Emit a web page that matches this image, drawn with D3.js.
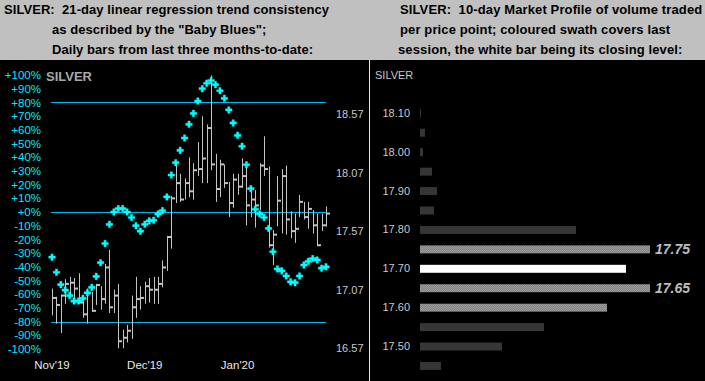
<!DOCTYPE html>
<html><head><meta charset="utf-8">
<script src="https://cdn.jsdelivr.net/npm/d3@7"></script>
<style>
body{margin:0;background:#c0c0c0;}
svg{display:block;}
text{font-family:"Liberation Sans",Arial,sans-serif;}
.hdr{font-weight:bold;font-size:13px;fill:#000;white-space:pre;}
</style>
</head><body>
<svg id="c" width="705" height="381"></svg>
<script>
// ---------- data: left panel (daily bars, last three months) ----------
const highs  = [17.08,17.01,17.03,17.16,17.18,17.17,17.21,16.97,17.08,17.05,17.12,17.10,17.29,17.41,17.07,17.12,16.73,16.77,17.02,17.18,17.10,17.14,17.17,17.18,17.18,17.32,17.53,17.87,
                18.15,18.06,18.02,18.20,18.15,18.33,18.55,18.48,18.90,18.23,18.18,18.14,17.99,18.06,18.06,18.19,18.15,17.95,17.92,18.15,18.38,18.12,17.58,
                18.04,18.10,18.13,17.74,17.72,17.88,17.82,17.82,17.75,17.72,17.72,17.78];
const lows   = [16.85,16.78,16.70,16.95,17.02,17.00,16.95,16.83,16.78,16.88,16.94,16.90,16.95,16.87,16.87,16.57,16.57,16.62,16.65,16.83,16.90,16.95,16.96,16.95,16.95,17.09,17.23,17.42,
                17.81,17.82,17.84,17.86,17.84,18.04,17.98,17.98,18.09,17.82,17.86,17.94,17.69,17.77,17.88,17.94,17.62,17.69,17.60,17.75,18.04,17.43,17.28,
                17.61,17.55,17.54,17.51,17.47,17.69,17.67,17.59,17.55,17.44,17.57,17.61];
const closes = [17.00,16.94,17.02,17.12,17.13,17.08,16.96,16.86,17.04,16.89,17.11,16.99,17.26,16.92,17.02,16.63,16.66,16.72,16.92,16.99,17.00,17.10,17.07,17.07,17.12,17.26,17.52,17.85,
                17.98,17.84,17.98,17.91,18.09,18.10,18.19,18.45,18.14,17.93,18.14,17.98,17.81,18.01,17.95,18.04,17.79,17.84,17.79,18.13,18.10,17.45,17.54,
                17.83,18.04,17.67,17.57,17.59,17.82,17.69,17.76,17.62,17.45,17.62,17.72];
// 21-day linear regression trend consistency ("Baby Blues"), percent
const trend  = [-33,-44,-53,-57,-61,-65,-65,-63,-59,-55,-47,-37,-23,-9,0,2.5,2.5,0,-4,-10,-14,-9,-6.5,-6,-1.5,1,11,27,
                36,45,54,64,72,81,90,94,96,93,88.5,83,74.5,65,56,48,34.5,17,2,-1.5,-4,-12,-29,
                -41.6,-43,-46.7,-51,-51.6,-46.7,-38.7,-36,-34,-35,-41,-40];
const monthLabels = ["Nov'19","Dec'19","Jan'20"];
const monthIndex  = [0,21,42];
const pctTicks    = d3.range(-100,101,10);
const priceTicks  = [16.57,17.07,17.57,18.07,18.57];
const trendLevels = [80,0,-80];

// ---------- data: right panel (10-day market profile) ----------
const profilePrices = ["18.10","18.05","18.00","17.95","17.90","17.85","17.80","17.75","17.70","17.65","17.60","17.55","17.50","17.45"];
const profileVolume = [1,5,3,12,17,14,156,230,206,230,187,124,82,21];
const profileKind   = ["base","base","base","base","base","base","base","swath","close","swath","swath","base","base","base"];
const swathLabels   = ["17.75","17.65"];

const svg = d3.select("#c");
const defs = svg.append("defs");
const pat = defs.append("pattern").attr("id","dither").attr("width",2).attr("height",2).attr("patternUnits","userSpaceOnUse");
pat.append("rect").attr("width",2).attr("height",2).attr("fill","#828282");
pat.append("rect").attr("width",1).attr("height",1).attr("fill","#9c9c9c");
pat.append("rect").attr("x",1).attr("y",1).attr("width",1).attr("height",1).attr("fill","#9c9c9c");

// backgrounds
svg.append("rect").attr("x",0).attr("y",0).attr("width",705).attr("height",60).attr("fill","#c0c0c0");
svg.append("rect").attr("x",0).attr("y",60).attr("width",705).attr("height",321).attr("fill","#000");
svg.append("line").attr("x1",369.5).attr("x2",369.5).attr("y1",60).attr("y2",381).attr("stroke","#e8e8e8").attr("stroke-width",1);

// headers
const hdrL = ["SILVER:  21-day linear regression trend consistency","as described by the \"Baby Blues\";","Daily bars from last three months-to-date:"];
const hdrLx = [4,52,52];
const hdrR = ["SILVER:  10-day Market Profile of volume traded","per price point; coloured swath covers last","session, the white bar being its closing level:"];
const hdrRx = [400,400,398];
const hdrY = [14,34,53.5];
svg.selectAll("text.hl").data(hdrL).join("text").attr("class","hdr hl")
  .attr("x",(d,i)=>hdrLx[i]).attr("y",(d,i)=>hdrY[i]).attr("letter-spacing","0.06px").text(d=>d);
svg.selectAll("text.hr").data(hdrR).join("text").attr("class","hdr hr")
  .attr("x",(d,i)=>hdrRx[i]).attr("y",(d,i)=>hdrY[i]).attr("letter-spacing","0.12px").text(d=>d);

// ---------- left panel ----------
const x = d3.scalePoint().domain(d3.range(closes.length)).range([52,326]);
const yPct = d3.scaleLinear().domain([-100,100]).range([349,75]);
const yPrice = d3.scaleLinear().domain([16.57,18.57]).range([348.3,114]);

const pctAxis = d3.axisLeft(yPct).tickValues(pctTicks).tickSize(0).tickPadding(0)
  .tickFormat(d => (d>=0?"+":"") + d + "%");
const gP = svg.append("g").attr("transform","translate(41,0)").call(pctAxis);
gP.select(".domain").remove();
gP.selectAll("text").attr("fill","#00e8ff").attr("font-size","11.5px").attr("font-family","Liberation Sans, Arial, sans-serif");

svg.append("text").attr("x",46).attr("y",80.5).attr("fill","#a8a8a8")
  .attr("font-weight","bold").attr("font-size","13px").text("SILVER");

const priceAxis = d3.axisRight(yPrice).tickValues(priceTicks).tickSize(0).tickPadding(0).tickFormat(d3.format(".2f"));
const gR = svg.append("g").attr("transform","translate(336,0)").call(priceAxis);
gR.select(".domain").remove();
gR.selectAll("text").attr("fill","#c8c8c8").attr("font-size","11px").attr("font-family","Liberation Sans, Arial, sans-serif");

svg.selectAll("line.lvl").data(trendLevels).join("line").attr("class","lvl")
  .attr("x1",51).attr("x2",326).attr("y1",d=>Math.round(yPct(d))+0.5).attr("y2",d=>Math.round(yPct(d))+0.5)
  .attr("stroke","#00b8f0").attr("stroke-width",1);

const bars = svg.append("g");
const idx = d3.range(closes.length);
bars.selectAll("line.hl").data(idx).join("line").attr("class","hl")
  .attr("x1",i=>Math.round(x(i))+0.5).attr("x2",i=>Math.round(x(i))+0.5)
  .attr("y1",i=>yPrice(highs[i])).attr("y2",i=>yPrice(lows[i]))
  .attr("stroke","#c4c4c4").attr("stroke-width",1);
bars.selectAll("line.cl").data(idx).join("line").attr("class","cl")
  .attr("x1",i=>Math.round(x(i))+1).attr("x2",i=>Math.round(x(i))+4)
  .attr("y1",i=>yPrice(closes[i])).attr("y2",i=>yPrice(closes[i]))
  .attr("stroke","#c4c4c4").attr("stroke-width",2);

svg.append("g").selectAll("path").data(idx).join("path")
  .attr("d",d3.symbol(d3.symbolCross,24))
  .attr("transform",i=>`translate(${x(i)},${yPct(trend[i])})`)
  .attr("fill","#00ffff").attr("stroke","#00ffff").attr("stroke-width",0.4).attr("stroke-linejoin","round");

svg.selectAll("text.mon").data(monthLabels).join("text").attr("class","mon")
  .attr("x",(d,i)=>x(monthIndex[i])).attr("y",369).attr("text-anchor","middle")
  .attr("fill","#e8e8e8").attr("font-size","11.5px").text(d=>d);

// ---------- right panel ----------
const yB = d3.scaleBand().domain(profilePrices).range([103.6,375.7]).paddingInner(0.59).paddingOuter(0.295);
const xV = d3.scaleLinear().domain([0,230]).range([420,650]);

svg.append("text").attr("x",375).attr("y",79).attr("fill","#c8c8c8").attr("font-size","11px").text("SILVER");

svg.append("g").selectAll("rect").data(profilePrices).join("rect")
  .attr("x",xV(0)).attr("y",d=>yB(d)).attr("height",yB.bandwidth())
  .attr("width",(d,i)=>xV(profileVolume[i])-xV(0))
  .attr("fill",(d,i)=>profileKind[i]==="close"?"#ffffff":profileKind[i]==="swath"?"url(#dither)":"#363636");

const profAxis = d3.axisLeft(yB).tickValues(profilePrices.filter(p=>p.endsWith("0"))).tickSize(0).tickPadding(10);
const gA = svg.append("g").attr("transform","translate(420,0)").call(profAxis);
gA.select(".domain").remove();
gA.selectAll("text").attr("fill","#c8c8c8").attr("font-size","11px").attr("font-family","Liberation Sans, Arial, sans-serif");

svg.selectAll("text.sw").data(swathLabels).join("text").attr("class","sw")
  .attr("x",d=>xV(profileVolume[profilePrices.indexOf(d)])+5)
  .attr("y",d=>yB(d)+yB.bandwidth()/2).attr("dy","0.36em")
  .attr("fill","#bdbdbd").attr("font-weight","bold").attr("font-style","italic").attr("font-size","14px").text(d=>d);
</script>
</body></html>
